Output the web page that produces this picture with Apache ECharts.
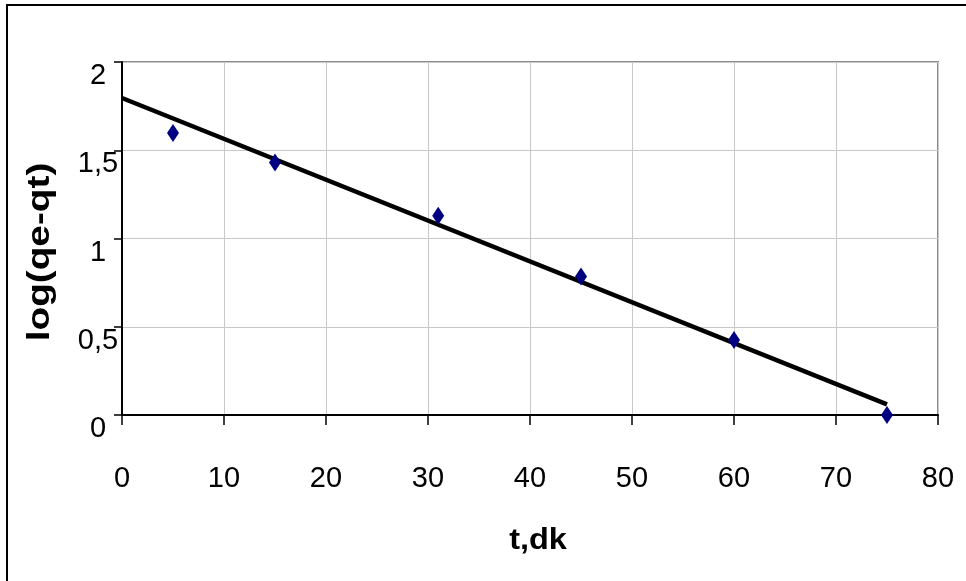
<!DOCTYPE html>
<html>
<head>
<meta charset="utf-8">
<script src="https://cdn.jsdelivr.net/npm/echarts@6/dist/echarts.min.js"></script>
<style>
    html, body { margin: 0; padding: 0; background: #fff; }
    #chart { width: 966px; height: 581px; }
</style>
</head>
<body>
<div id="chart"></div>
<script>
    // measured points (t in minutes, log(qe-qt))
    var tValues = [5, 15, 31, 45, 60, 75];
    var logValues = [1.598, 1.43, 1.129, 0.784, 0.425, 0.0];
    // linear trendline end points
    var trendT = [0, 75];
    var trendLog = [1.796, 0.06];

    var xTitle = 't,dk';
    var yTitle = 'log(qe-qt)';

    var points = tValues.map(function (t, i) { return [t, logValues[i]]; });
    var trend = trendT.map(function (t, i) { return [t, trendLog[i]]; });

    var myChart = echarts.init(document.getElementById('chart'));
    var font = 'Liberation Sans, Arial, sans-serif';

    var option = {
        animation: false,
        backgroundColor: '#fff',
        graphic: [
            {
                type: 'rect',
                shape: { x: 7, y: 5, width: 1200, height: 1200 },
                style: { fill: 'none', stroke: '#000', lineWidth: 2 },
                silent: true
            },
            {
                // y axis title, a bit stretched like the original
                type: 'text',
                x: 40, y: 252,
                rotation: Math.PI / 2,
                scaleX: 1.25,
                style: {
                    text: yTitle,
                    font: 'bold 31px ' + font,
                    fill: '#000',
                    textAlign: 'center',
                    textVerticalAlign: 'middle'
                }
            },
            {
                type: 'text',
                x: 538, y: 541,
                scaleX: 1.12,
                style: {
                    text: xTitle,
                    font: 'bold 29px ' + font,
                    fill: '#000',
                    textAlign: 'center',
                    textVerticalAlign: 'middle'
                }
            }
        ],
        grid: {
            left: 122, top: 62, right: 28, bottom: 166,
            show: true,
            borderColor: '#8c8c8c',
            borderWidth: 2,
            backgroundColor: 'transparent'
        },
        xAxis: {
            type: 'value',
            min: 0, max: 80, interval: 10,
            axisLine: { show: true, onZero: false, lineStyle: { color: '#000', width: 2 } },
            axisTick: { show: true, inside: false, length: 10, lineStyle: { color: '#000', width: 1.5 } },
            axisLabel: { margin: 49, fontFamily: font, fontSize: 29, color: '#000' },
            splitLine: { show: true, lineStyle: { color: '#c8c8c8', width: 1 } }
        },
        yAxis: {
            type: 'value',
            min: 0, max: 2, interval: 0.5,
            axisLine: { show: true, onZero: false, lineStyle: { color: '#000', width: 2 } },
            axisTick: { show: true, inside: false, length: 8, lineStyle: { color: '#000', width: 1.5 } },
            axisLabel: {
                margin: 24,
                align: 'center',
                verticalAlign: 'top',
                lineHeight: 28,
                fontFamily: font, fontSize: 29, color: '#000',
                formatter: function (v) { return String(v).replace('.', ','); }
            },
            splitLine: { show: true, lineStyle: { color: '#c8c8c8', width: 1 } }
        },
        series: [
            {
                name: 'trend',
                type: 'line',
                data: trend,
                symbol: 'none',
                lineStyle: { color: '#000', width: 4.5 },
                z: 2
            },
            {
                name: 'log(qe-qt)',
                type: 'scatter',
                data: points,
                symbol: 'diamond',
                symbolSize: [12, 18],
                itemStyle: { color: '#000080', opacity: 1 },
                z: 3
            }
        ]
    };

    option && myChart.setOption(option);
</script>
</body>
</html>
